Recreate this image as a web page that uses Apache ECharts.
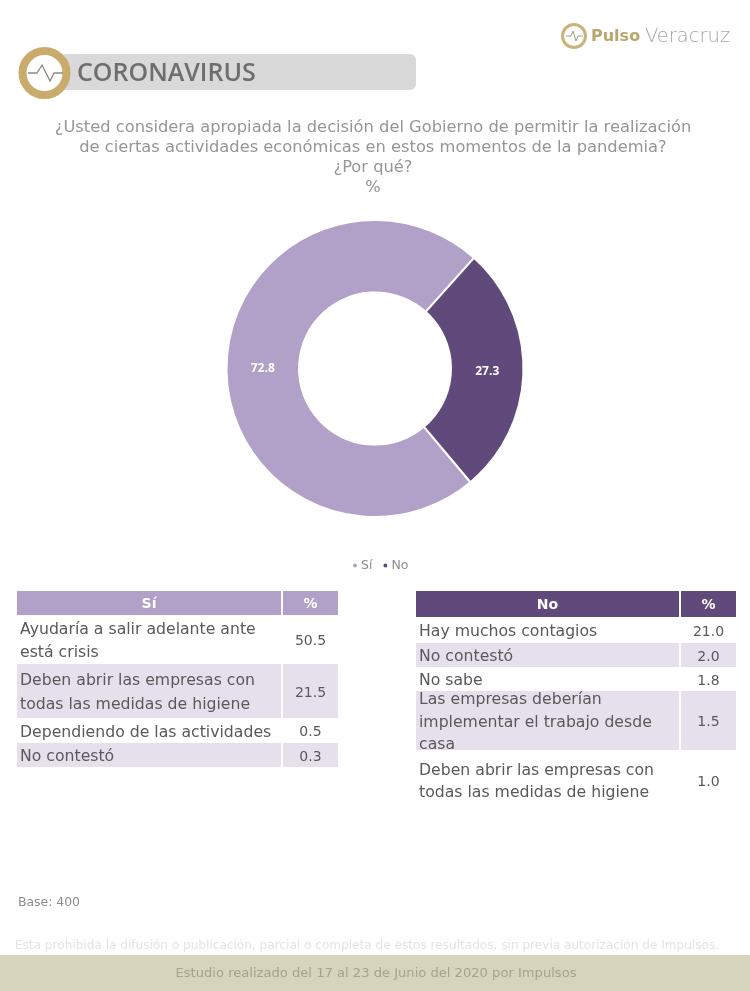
<!DOCTYPE html>
<html><head><meta charset="utf-8">
<style>html,body{margin:0;padding:0;background:#fff}#c{width:750px;height:991px}</style>
<script src="https://cdn.jsdelivr.net/npm/echarts@6/dist/echarts.min.js"></script></head>
<body><div id="c"></div>
<script>
const pieNames = ['Sí', 'No'];
const pieValues = [72.8, 27.3];
const questionLines = [
  '¿Usted considera apropiada la decisión del Gobierno de permitir la realización',
  'de ciertas actividades económicas en estos momentos de la pandemia?',
  '¿Por qué?',
  '%'
];
const siLabels = ['Ayudaría a salir adelante ante\nestá crisis', 'Deben abrir las empresas con\ntodas las medidas de higiene', 'Dependiendo de las actividades', 'No contestó'];
const siValues = ['50.5', '21.5', '0.5', '0.3'];
const noLabels = ['Hay muchos contagios', 'No contestó', 'No sabe', 'Las empresas deberían\nimplementar el trabajo desde\ncasa', 'Deben abrir las empresas con\ntodas las medidas de higiene'];
const noValues = ['21.0', '2.0', '1.8', '1.5', '1.0'];

const FONT = '"DejaVu Sans"';
const SI = '#b1a0c7', NO = '#604a7b', BAND = '#e6e0ec';
const g = [];
const text = (x, y, t, size, fill, extra) => g.push({type:'text', x, y, silent:true, style:Object.assign({text:t, fontFamily:FONT, fontSize:size, fill, align:'center', verticalAlign:'middle'}, extra||{})});
const rect = (x, y, w, h, fill, r) => g.push({type:'rect', silent:true, shape:{x, y, width:w, height:h, r:r||0}, style:{fill}});

function table(x, split, right, headTop, headBot, rowH, color, title, labels, values, lh) {
  rect(x, headTop, split - x, headBot - headTop, color);
  rect(split + 2, headTop, right - split - 2, headBot - headTop, color);
  text((x + split) / 2, (headTop + headBot) / 2 + 1, title, 14, '#fff', {fontWeight:'bold'});
  text((split + right) / 2 + 1, (headTop + headBot) / 2 + 1, '%', 14, '#fff', {fontWeight:'bold'});
  let y = headBot;
  labels.forEach((lab, i) => {
    const h = rowH[i];
    if (i % 2 === 1) { rect(x, y, split - x, h, BAND); rect(split + 2, y, right - split - 2, h, BAND); }
    text(x + 3, y + h / 2 + 2, lab, 15.7, '#595959', {align:'left', lineHeight: lh});
    text((split + right) / 2 + 1, y + h / 2 + 2, values[i], 14, '#595959');
    y += h;
  });
}

// header
rect(60, 54, 356, 36, '#d9d9d9', 6);
g.push({type:'circle', silent:true, shape:{cx:44.5, cy:73, r:22}, style:{fill:'#fff', stroke:'#c9ab6c', lineWidth:8}});
g.push({type:'polyline', silent:true, shape:{points:[[28,73],[37,73],[42,65],[50,81],[54,73],[63,73]]}, style:{fill:'none', stroke:'#8a8a80', lineWidth:1.3}});
text(77, 74, 'CORONAVIRUS', 25, '#6e6e6e', {align:'left', fontFamily:'"Open Sans"', fontWeight:600});
g.push({type:'circle', silent:true, shape:{cx:574, cy:36, r:11.5}, style:{fill:'#fff', stroke:'#c9b27c', lineWidth:3}});
g.push({type:'polyline', silent:true, shape:{points:[[566,36],[571,36],[573,31],[576,41],[578,36],[583,36]]}, style:{fill:'none', stroke:'#a59a80', lineWidth:1}});
text(591, 37, 'Pulso', 16, '#b9a56e', {align:'left', fontWeight:'bold'});
text(645, 37, 'Veracruz', 19.5, '#a6a6a6', {align:'left', fontWeight:200});

questionLines.forEach((l, i) => text(373, 128 + i * 20, l, 16.3, '#969696'));

table(17, 281, 338, 591, 615, [49, 54, 25, 24], SI, 'Sí', siLabels, siValues, 23.5);
table(416, 679, 736, 591, 617, [26, 24, 24, 59, 60], NO, 'No', noLabels, noValues, 22.8);

text(18, 903, 'Base: 400', 12.4, '#8c8c8c', {align:'left'});
rect(0, 955, 750, 36, '#d6d4bd');
text(367, 946, 'Esta prohibida la difusión o publicación, parcial o completa de estos resultados, sin previa autorización de Impulsos.', 12.1, '#e3e3e3');
text(376, 974, 'Estudio realizado del 17 al 23 de Junio del 2020 por Impulsos', 13.1, '#a5a38c');

const labelOffsets = [[3, 2], [-3, 1]];
const chart = echarts.init(document.getElementById('c'), null, {renderer:'canvas'});
chart.setOption({
  animation:false,
  legend:{left:351, top:559, padding:0, itemWidth:6, itemHeight:6, itemGap:9, icon:'circle', data:pieNames,
    textStyle:{color:'#8c8c8c', fontSize:12.5, fontFamily:FONT, padding:[0,0,0,-2]}},
  color:[SI, NO],
  series:[{type:'pie', center:[375,368.5], radius:[76,148.5], startAngle:-50, clockwise:true, silent:true,
    itemStyle:{borderColor:'#fff', borderWidth:2},
    label:{position:'inside', color:'#fff', fontWeight:'bold', fontSize:12, fontFamily:'"Open Sans"', formatter:p=>p.value.toFixed(1)},
    labelLine:{show:false},
    data:pieNames.map((n,i)=>({name:n, value:pieValues[i], label:{offset:labelOffsets[i]}}))}],
  graphic:{elements:g}
});
</script></body></html>
